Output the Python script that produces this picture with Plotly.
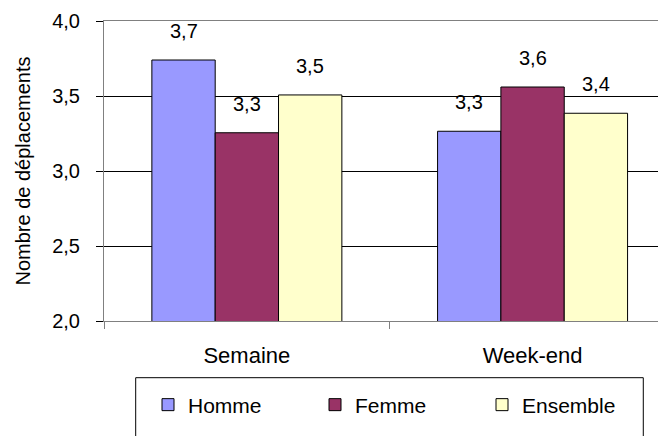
import plotly.graph_objects as go

categories = ["Semaine", "Week-end"]
series_names = ["Homme", "Femme", "Ensemble"]
homme = [3.74, 3.265]
femme = [3.255, 3.56]
ensemble = [3.507, 3.385]
series_values = [homme, femme, ensemble]
colors = ["#9999FF", "#993366", "#FFFFCC"]

FONT = "Liberation Sans, Arial, sans-serif"
# page body has an 8px margin; figure is sized to fill the rest of the window
W, H = 658, 428
ML, MR, MT, MB = 96, 0, 13, 115
BARGAP = 0.335
XRANGE = [-0.5, 1.467]

fig = go.Figure()
for name, vals, col in zip(series_names, series_values, colors):
    fig.add_trace(go.Bar(
        x=categories, y=vals, name=name,
        marker=dict(color=col, line=dict(color="black", width=1)),
    ))

# data labels above bars
nser = len(series_names)
w = (1 - BARGAP) / nser
for i, vals in enumerate(series_values):
    for j, v in enumerate(vals):
        fig.add_annotation(
            x=j + (i - (nser - 1) / 2) * w, y=v, xref="x", yref="y",
            text=f"{v:.1f}".replace(".", ","), showarrow=False,
            yshift=29, font=dict(family=FONT, size=20, color="black"),
        )

# legend frame
fig.add_shape(type="rect", xref="paper", yref="paper",
              x0=0.0564, x1=0.9596, y0=-0.189, y1=-0.45,
              line=dict(color="black", width=1), fillcolor="rgba(0,0,0,0)")

fig.update_layout(
    width=W, height=H,
    margin=dict(l=ML, r=MR, t=MT, b=MB, pad=0, autoexpand=False),
    paper_bgcolor="white", plot_bgcolor="white",
    barmode="group", bargap=BARGAP, bargroupgap=0,
    separators=", ",
    font=dict(family=FONT, size=20, color="black"),
    showlegend=True,
    legend=dict(orientation="h", x=0.0783, xanchor="left", y=-0.28, yanchor="middle",
                entrywidth=122, entrywidthmode="pixels",
                bgcolor="rgba(0,0,0,0)", borderwidth=0,
                font=dict(family=FONT, size=21, color="black"),
                traceorder="normal"),
    xaxis=dict(type="category", range=XRANGE, tickson="boundaries", automargin=False,
               ticks="outside", ticklen=7, tickcolor="#808080",
               showline=True, linecolor="#808080", linewidth=1, mirror=True,
               showgrid=False, ticklabelstandoff=15,
               tickfont=dict(family=FONT, size=22, color="black")),
    yaxis=dict(range=[2, 4], dtick=0.5, tick0=2, tickformat=".1f", automargin=False,
               ticks="outside", ticklen=7, tickcolor="black",
               showline=True, linecolor="#808080", linewidth=1,
               showgrid=True, gridcolor="black", gridwidth=1, zeroline=False,
               ticklabelstandoff=12,
               tickfont=dict(family=FONT, size=20, color="black"),
               title=dict(text="Nombre de déplacements", standoff=16,
                          font=dict(family=FONT, size=20, color="black"))),
)

fig.write_html("out.html")
